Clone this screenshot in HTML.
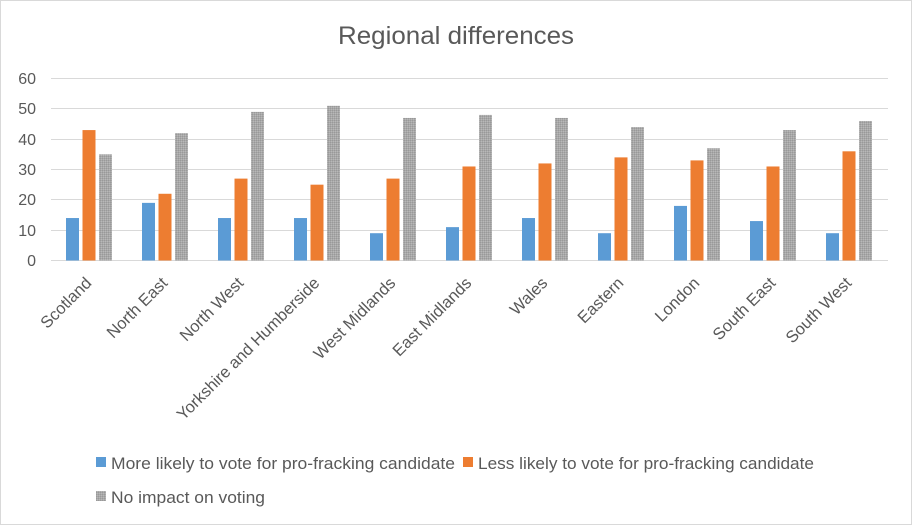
<!DOCTYPE html>
<html><head><meta charset="utf-8"><style>
body{margin:0;background:#fff}
svg{display:block;font-family:"Liberation Sans",Arial,sans-serif}
</style></head><body>
<svg width="912" height="525" viewBox="0 0 912 525" xmlns="http://www.w3.org/2000/svg">
<defs>
<pattern id="h" width="2" height="2" patternUnits="userSpaceOnUse">
<rect width="2" height="2" fill="#a8a8a8"/><rect width="1" height="1" fill="#999"/><rect x="1" y="1" width="1" height="1" fill="#b8b8b8"/>
</pattern>
</defs>
<rect x="0.5" y="0.5" width="911" height="524" fill="#fff" stroke="#d9d9d9"/>
<text x="456" y="44" text-anchor="middle" font-size="25" fill="#595959" textLength="236" lengthAdjust="spacingAndGlyphs">Regional differences</text>
<g stroke="#d9d9d9" stroke-width="1">
<line x1="51" x2="888" y1="78.5" y2="78.5"/><line x1="51" x2="888" y1="108.5" y2="108.5"/>
<line x1="51" x2="888" y1="139.5" y2="139.5"/><line x1="51" x2="888" y1="169.5" y2="169.5"/>
<line x1="51" x2="888" y1="199.5" y2="199.5"/><line x1="51" x2="888" y1="230.5" y2="230.5"/>
<line x1="51" x2="888" y1="260.5" y2="260.5"/>
</g>
<g font-size="16" fill="#595959" text-anchor="end">
<text x="36" y="84">60</text><text x="36" y="114">50</text><text x="36" y="145">40</text>
<text x="36" y="175">30</text><text x="36" y="205">20</text><text x="36" y="236">10</text><text x="36" y="266">0</text>
</g>
<g id="bars"></g>
<g id="labels" font-size="16.5" fill="#595959" text-anchor="end"></g>
<rect x="96" y="457" width="10" height="10" fill="#5b9bd5"/>
<text x="111" y="469" font-size="16.5" fill="#595959" textLength="344" lengthAdjust="spacingAndGlyphs">More likely to vote for pro-fracking candidate</text>
<rect x="463" y="457" width="10" height="10" fill="#ed7d31"/>
<text x="478" y="469" font-size="16.5" fill="#595959" textLength="336" lengthAdjust="spacingAndGlyphs">Less likely to vote for pro-fracking candidate</text>
<rect x="96" y="491" width="10" height="10" fill="url(#h)"/>
<text x="111" y="503" font-size="16.5" fill="#595959" textLength="154" lengthAdjust="spacingAndGlyphs">No impact on voting</text>
</svg>
<script>
var d=[["Scotland",14,43,35],["North East",19,22,42],["North West",14,27,49],["Yorkshire and Humberside",14,25,51],["West Midlands",9,27,47],["East Midlands",11,31,48],["Wales",14,32,47],["Eastern",9,34,44],["London",18,33,37],["South East",13,31,43],["South West",9,36,46]];
var ns="http://www.w3.org/2000/svg",b=document.getElementById("bars"),l=document.getElementById("labels");
var cols=["#5b9bd5","#ed7d31","url(#h)"];
d.forEach(function(r,i){
 var c=89.5+76*i;
 for(var k=0;k<3;k++){var v=r[k+1],h=v*3.033;var e=document.createElementNS(ns,"rect");
 e.setAttribute("x",c-23.5+k*16.5);e.setAttribute("width",13);e.setAttribute("y",260.5-h);e.setAttribute("height",h);e.setAttribute("fill",cols[k]);b.appendChild(e);}
 var t=document.createElementNS(ns,"text");t.setAttribute("transform","translate("+(c+3)+",284) rotate(-45)");t.textContent=r[0];l.appendChild(t);
});
</script>
</body></html>
